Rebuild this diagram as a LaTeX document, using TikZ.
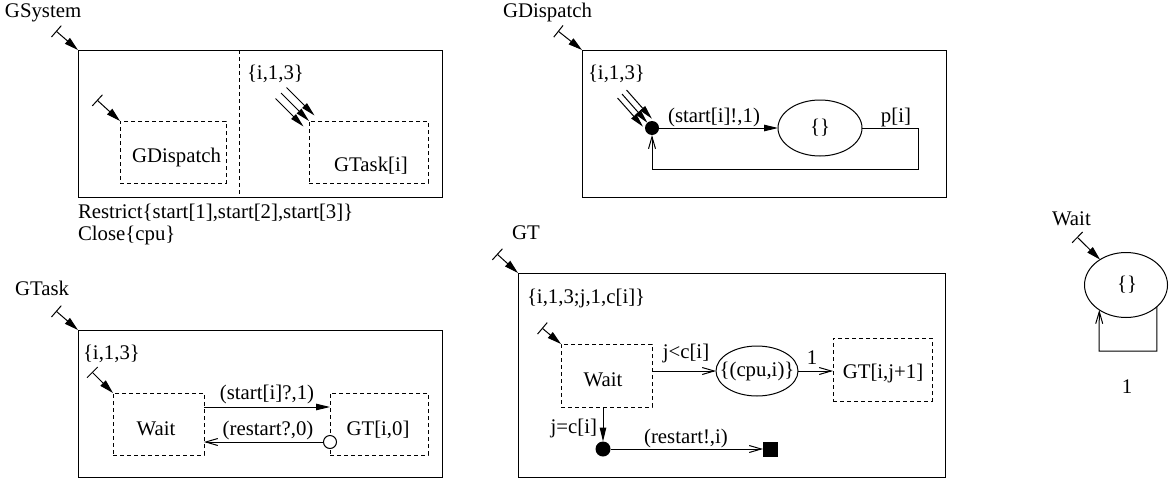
\documentclass[tikz,border=0pt]{standalone}
\usepackage{fontspec}
\setmainfont{Liberation Serif}
\usetikzlibrary{arrows.meta,shapes.geometric}
\begin{document}
\begin{tikzpicture}[x=1pt,y=-1pt,line width=1pt,
  font=\fontsize{20.8}{24}\selectfont]
\tikzset{
  every node/.style={inner sep=0pt, outer sep=0pt},
  panel/.style={draw, rectangle},
  subbox/.style={draw, rectangle, dash pattern=on 4pt off 3pt},
  oval/.style={draw, ellipse},
  blob/.style={circle, fill=black, minimum size=14pt},
  sq/.style={rectangle, fill=black, minimum size=15pt},
  ring/.style={circle, draw, fill=white, minimum size=13pt},
  entry/.style={arrows={Bar[width=15pt]-Triangle[length=14pt,width=7.5pt]}},
  fa/.style={-{Triangle[length=14pt,width=6.5pt]}},
  oa/.style={-{Straight Barb[length=12pt,width=7pt]}},
  txt/.style={anchor=base},
  txtw/.style={anchor=base west},
  txte/.style={anchor=base east},
}
\useasboundingbox (0,0) rectangle (1169,479);

% ---------------- GSystem ----------------
\node[txtw] (lSys) at (5,17) {GSystem};
\node[panel, minimum width=364pt, minimum height=147pt] (sys) at (260,123.5) {};
\coordinate (sysIn) at (56,31);
\draw[entry] (sysIn) -- (sys.north west);
\draw[dash pattern=on 4pt off 3pt] ([xshift=161pt]sys.north west) -- ([xshift=161pt]sys.south west);
\node[txtw] (sysIdx) at (247,79) {\{i,1,3\}};
\node[subbox, minimum width=106pt, minimum height=62pt] (sysDisp) at (173,152) {};
\node[txt] (tSysDisp) at (176.5,162) {GDispatch};
\coordinate (sysDispIn) at (97,100);
\draw[entry] (sysDispIn) -- (sysDisp.north west);
\node[subbox, minimum width=119pt, minimum height=62pt] (sysTask) at (368.5,152) {};
\node[txt] (tSysTask) at (371,171) {GTask[i]};
\coordinate (m1s) at (275.5,98.5);  \coordinate (m1e) at (303.5,126.5);
\coordinate (m2s) at (281,93);
\coordinate (m3s) at (286.5,87.5);  \coordinate (m3e) at (314.5,115.5);
\draw[fa] (m1s) -- (m1e);
\draw[fa] (m2s) -- (sysTask.north west);
\draw[fa] (m3s) -- (m3e);
\node[txtw] (restr) at (78,218) {Restrict\{start[1],start[2],start[3]\}};
\node[txtw] (closeCpu) at (78,240) {Close\{cpu\}};

% ---------------- GDispatch ----------------
\node[txtw] (lDisp) at (503,17) {GDispatch};
\node[panel, minimum width=364pt, minimum height=147pt] (disp) at (764,123.5) {};
\coordinate (dispIn) at (558,31);
\draw[entry] (dispIn) -- (disp.north west);
\node[txtw] (dispIdx) at (588,79) {\{i,1,3\}};
\node[blob] (dDot) at (652,128) {};
\node[oval, minimum width=84pt, minimum height=56pt] (dOval) at (820,128) {};
\node (tdOval) at (dOval) {\{\}};
\coordinate (d1s) at (617.5,98);  \coordinate (d1e) at (643,126.7);
\coordinate (d2s) at (622,94);
\coordinate (d3s) at (626.5,90);  \coordinate (d3e) at (651.9,118.7);
\draw[fa] (d1s) -- (d1e);
\draw[fa] (d2s) -- (dDot);
\draw[fa] (d3s) -- (d3e);
\draw[fa] (dDot) -- (dOval);
\node[txt] (lStart) at (714,122) {(start[i]!,1)};
\coordinate (dLoop) at (918,169);
\draw[oa] (dOval.east) -| (dLoop) -| (dDot);
\node[txt] (lP) at (896,122) {p[i]};

% ---------------- GTask ----------------
\node[txtw] (lTask) at (15,295) {GTask};
\node[panel, minimum width=364pt, minimum height=147pt] (task) at (260,403.5) {};
\coordinate (taskIn) at (56,311);
\draw[entry] (taskIn) -- (task.north west);
\node[txtw] (taskIdx) at (83,359) {\{i,1,3\}};
\node[subbox, minimum width=91pt, minimum height=62pt] (tWait) at (158.5,424) {};
\node[txt] (ttWait) at (156,435) {Wait};
\node[subbox, minimum width=98pt, minimum height=62pt] (tGT) at (379,424) {};
\node[txt] (ttGT) at (378,435) {GT[i,0]};
\coordinate (tWaitIn) at (92,372);
\draw[entry] (tWaitIn) -- (tWait.north west);
\draw[fa] ([yshift=17pt]tWait.east) -- ([yshift=17pt]tGT.west);
\node[txt] (lStartQ) at (267,399) {(start[i]?,1)};
\node[ring] (tRing) at ([yshift=-18pt]tGT.west) {};
\draw[oa] (tRing) -- ([yshift=-18pt]tWait.east);
\node[txt] (lRestartQ) at (268,435) {(restart?,0)};

% ---------------- GT ----------------
\node[txtw] (lGT) at (512,239) {GT};
\node[panel, minimum width=427pt, minimum height=204pt] (gt) at (731.5,375) {};
\coordinate (gtIn) at (497,254);
\draw[entry] (gtIn) -- (gt.north west);
\node[txtw] (gtIdx) at (527,303) {\{i,1,3;j,1,c[i]\}};
\node[subbox, minimum width=91pt, minimum height=63pt] (gWait) at (606.5,375.5) {};
\node[txt] (tgWait) at (603,386) {Wait};
\coordinate (gWaitIn) at (542,328);
\draw[entry] (gWaitIn) -- (gWait.north west);
\node[oval, minimum width=82pt, minimum height=50pt] (gOval) at (757,371) {};
\node (tgOval) at (gOval) {\{(cpu,i)\}};
\node[subbox, minimum width=99pt, minimum height=63pt] (gNext) at (882.5,369.5) {};
\node[txt] (tgNext) at (883,378) {GT[i,j+1]};
\draw[oa] (gWait.east |- gOval.west) -- (gOval.west);
\node[txt] (lLess) at (686,358) {j<c[i]};
\draw[oa] (gOval.east) -- (gNext.west |- gOval.east);
\node[txt] (lOne) at (812,364) {1};
\node[blob, minimum size=15pt] (gDot) at (603,449) {};
\draw[fa] (gDot |- gWait.south) -- (gDot);
\node[txte] (lEq) at (597,433) {j=c[i]};
\node[sq] (gSq) at (770.5,449) {};
\draw[oa] (gDot) -- (gSq);
\node[txt] (lRestartX) at (686,443) {(restart!,i)};

% ---------------- Wait ----------------
\node[txtw] (lWait) at (1052,225) {Wait};
\node[oval, minimum width=83pt, minimum height=65pt] (wOval) at (1126,285) {};
\node (twOval) at (1127,285) {\{\}};
\coordinate (wIn) at (1077,237);
\draw[entry] (wIn) -- (wOval);
\coordinate (wLoop) at (1099,351);
\draw[oa] (wOval.-35) |- (wLoop) -- (wOval.-137.5);
\node[txt] (lWOne) at (1127,393) {1};
\end{tikzpicture}
\end{document}
